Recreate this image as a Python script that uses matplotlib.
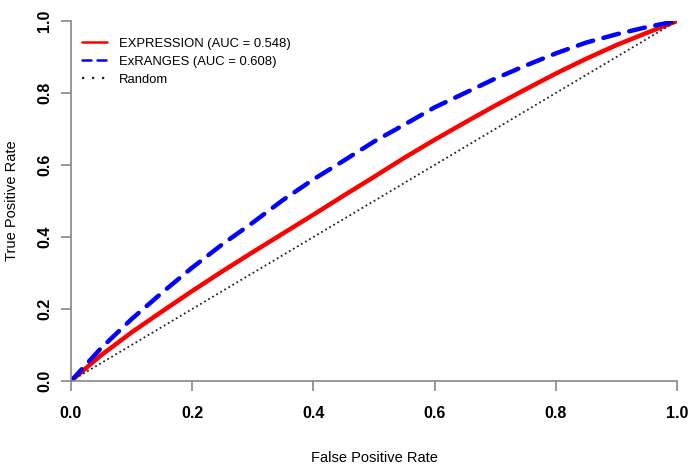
import matplotlib
matplotlib.use("Agg")
import matplotlib.pyplot as plt

plt.rcParams['font.family'] = ['Liberation Sans', 'DejaVu Sans']

fpr = [0.0, 0.05, 0.1, 0.15, 0.2, 0.25, 0.3, 0.35, 0.4, 0.45, 0.5,
       0.55, 0.6, 0.65, 0.7, 0.75, 0.8, 0.85, 0.9, 0.95, 1.0]
tpr_expression = [0.0, 0.072, 0.135, 0.193, 0.25, 0.305, 0.358, 0.41, 0.462, 0.515, 0.567,
                  0.62, 0.67, 0.718, 0.765, 0.81, 0.854, 0.895, 0.933, 0.967, 1.0]
tpr_exranges = [0.0, 0.092, 0.172, 0.245, 0.315, 0.38, 0.44, 0.503, 0.56, 0.612, 0.665,
                0.712, 0.76, 0.80, 0.84, 0.876, 0.91, 0.94, 0.963, 0.983, 1.0]
random_line = [0.0, 1.0]

labels = ["EXPRESSION (AUC = 0.548)", "ExRANGES (AUC = 0.608)", "Random"]
xticks = [0.0, 0.2, 0.4, 0.6, 0.8, 1.0]
yticks = [0.0, 0.2, 0.4, 0.6, 0.8, 1.0]

fig = plt.figure(figsize=(6.9, 4.66), dpi=100)
ax = fig.add_axes([71/690, 85/466, 606/690, 360/466])

ax.plot(fpr, tpr_expression, color='#ff0000', lw=3.2, label=labels[0], solid_capstyle='round')
ax.plot(fpr, tpr_exranges, color='#0000ff', lw=3.2, ls=(0, (3.6, 2.4)), label=labels[1], dash_capstyle='round')
ax.plot(random_line, random_line, color='#222222', lw=1.3, ls=(0, (1, 1.6)), label=labels[2])

ax.set_xlim(0, 1)
ax.set_ylim(0, 1)
ax.set_xticks(xticks)
ax.set_yticks(yticks)
ax.set_xticklabels([f"{v:.1f}" for v in xticks], fontweight='bold', fontsize=11.5)
ax.set_yticklabels([f"{v:.1f}" for v in yticks], fontweight='bold', fontsize=11.5, rotation=90, va='center')

for s in ['top', 'right']:
    ax.spines[s].set_visible(False)
for s in ['left', 'bottom']:
    ax.spines[s].set_color('#888888')
    ax.spines[s].set_linewidth(1.2)
ax.tick_params(axis='both', direction='out', length=7, width=1.2, color='#888888')
ax.tick_params(axis='x', pad=11)
ax.tick_params(axis='y', pad=6.5)

ax.set_xlabel("False Positive Rate", fontsize=10.5)
ax.xaxis.label.set_va('baseline')
ax.xaxis.set_label_coords(0.5, -0.225)
ax.set_ylabel("True Positive Rate", fontsize=10.5)
ax.yaxis.label.set_va('center')
ax.yaxis.set_label_coords(-0.0974, 0.5)

leg = ax.legend(loc='upper left', bbox_to_anchor=(0.018, 0.954), frameon=False, fontsize=9.4,
                handlelength=1.94, handletextpad=0.9, labelspacing=0.46, borderaxespad=0.0,
                borderpad=0.0)
hl = leg.get_lines()
hl[0].set_linewidth(1.8)
hl[1].set_linewidth(1.8)
hl[1].set_linestyle((0, (3.6, 2.4)))
hl[2].set_linewidth(1.6)
hl[2].set_linestyle((0, (1, 3.5)))

fig.savefig("out.png", dpi=100)
